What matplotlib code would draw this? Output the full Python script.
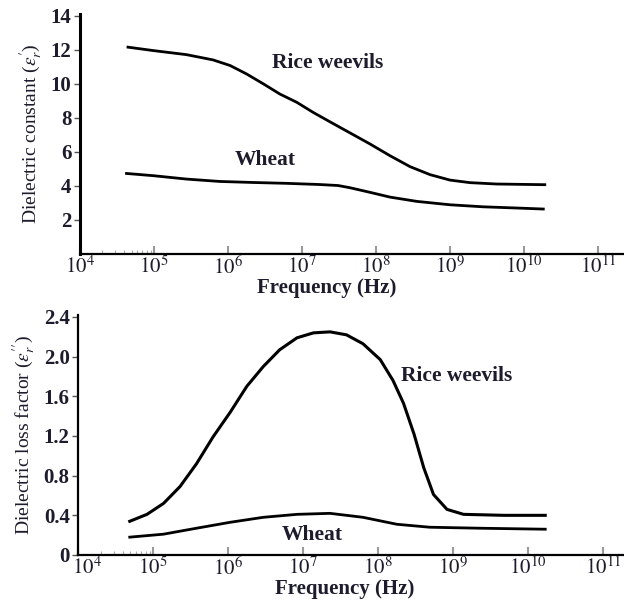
import matplotlib
matplotlib.use('Agg')
import matplotlib.pyplot as plt
import matplotlib.transforms as mtransforms
import numpy as np
from matplotlib.ticker import FixedLocator, NullFormatter

matplotlib.rc('font', family=['Liberation Serif', 'DejaVu Serif'])
matplotlib.rc('mathtext', fontset='stix')

TEXT = '#1c1c2c'

# Dielectric constant (top panel), x as log10(frequency in Hz)
const_rice_logf = [4.65, 4.99, 5.44, 5.80, 6.03, 6.25, 6.48, 6.70, 6.93, 7.15, 7.38,
                   7.65, 7.92, 8.19, 8.46, 8.73, 9.0, 9.27, 9.63, 10.28]
const_rice_val = [12.14, 11.94, 11.7, 11.39, 11.06, 10.57, 9.98, 9.39, 8.9, 8.31, 7.75,
                  7.1, 6.45, 5.76, 5.12, 4.65, 4.33, 4.18, 4.1, 4.06]
const_wheat_logf = [4.63, 4.99, 5.44, 5.89, 6.34, 6.79, 7.24, 7.49, 7.65, 7.92, 8.19,
                    8.55, 9.0, 9.45, 9.9, 10.26]
const_wheat_val = [4.72, 4.59, 4.39, 4.25, 4.19, 4.14, 4.07, 4.01, 3.88, 3.61, 3.33,
                   3.08, 2.88, 2.76, 2.69, 2.63]

# Dielectric loss factor (bottom panel)
loss_rice_logf = [4.69, 4.92, 5.14, 5.36, 5.58, 5.80, 6.03, 6.25, 6.47, 6.69, 6.92,
                  7.14, 7.36, 7.58, 7.80, 8.03, 8.20, 8.34, 8.48, 8.61, 8.74, 8.92,
                  9.14, 9.68, 10.23]
loss_rice_val = [0.34, 0.41, 0.52, 0.69, 0.92, 1.19, 1.44, 1.70, 1.90, 2.07, 2.19,
                 2.24, 2.25, 2.22, 2.13, 1.97, 1.76, 1.53, 1.22, 0.88, 0.61, 0.46,
                 0.41, 0.40, 0.40]
loss_wheat_logf = [4.69, 5.14, 5.58, 6.03, 6.47, 6.92, 7.36, 7.80, 8.25, 8.69, 9.36, 10.23]
loss_wheat_val = [0.18, 0.21, 0.27, 0.33, 0.38, 0.41, 0.42, 0.38, 0.31, 0.28, 0.27, 0.26]

decades = [4, 5, 6, 7, 8, 9, 10, 11]
minor_freqs = [2e4, 3e4, 4e4, 5e4, 6e4, 7e4, 8e4, 9e4]


def style_axes(ax, xmax_log, ylim, yticks, ylabels, ylabel, xlabel_x):
    ax.set_xscale('log')
    ax.set_xlim(1e4, 10**xmax_log)
    ax.set_ylim(*ylim)
    ax.spines['top'].set_visible(False)
    ax.spines['right'].set_visible(False)
    ax.spines['left'].set_linewidth(2.2)
    ax.spines['bottom'].set_linewidth(1.6)
    ax.xaxis.set_major_locator(FixedLocator([10.0**d for d in decades]))
    ax.set_xticklabels([f'$10^{{{d}}}$' for d in decades])
    ax.xaxis.set_minor_locator(FixedLocator(minor_freqs))
    ax.xaxis.set_minor_formatter(NullFormatter())
    ax.tick_params(axis='x', which='major', direction='in', length=6, width=1.5,
                   color='#999999', labelsize=15, labelcolor=TEXT, pad=2)
    ax.tick_params(axis='x', which='minor', direction='in', length=3, width=0.8,
                   color='#aaaaaa')
    ax.set_yticks(yticks)
    ax.set_yticklabels(ylabels)
    ax.tick_params(axis='y', direction='out', length=4, width=1.0, color='#555555',
                   labelsize=15, labelcolor=TEXT, pad=2)
    for lbl in ax.get_xticklabels() + ax.get_yticklabels():
        lbl.set_fontweight('bold')
    ax.set_ylabel(ylabel, fontsize=14, color=TEXT, labelpad=4)
    ax.set_xlabel('Frequency (Hz)', fontsize=15, fontweight='bold', color=TEXT)
    ax.xaxis.label.set_va('bottom')
    ax.xaxis.set_label_coords(xlabel_x, -0.183)


fig = plt.figure(figsize=(6.24, 6.0), dpi=100)

ax1 = fig.add_axes([0.128, 0.577, 0.872, 0.40])
ax1.plot(10.0**np.array(const_rice_logf), const_rice_val, color='black', lw=2.0)
ax1.plot(10.0**np.array(const_wheat_logf), const_wheat_val, color='black', lw=2.0)
style_axes(ax1, 11.35, (0, 14.1), [2, 4, 6, 8, 10, 12, 14],
           ['2', '4', '6', '8', '10', '12', '14'],
           "Dielectric constant ($\\varepsilon_r^{\\prime}$)", 0.454)
ax1.text(10**7.34, 11.2, 'Rice weevils', fontsize=15.5, fontweight='bold', color=TEXT,
         ha='center', va='center')
ax1.text(10**6.5, 5.5, 'Wheat', fontsize=15.5, fontweight='bold', color=TEXT,
         ha='center', va='center')

ax2 = fig.add_axes([0.125, 0.075, 0.875, 0.40])
ax2.plot(10.0**np.array(loss_rice_logf), loss_rice_val, color='black', lw=2.2)
ax2.plot(10.0**np.array(loss_wheat_logf), loss_wheat_val, color='black', lw=2.0)
style_axes(ax2, 11.28, (0, 2.42), [0, 0.4, 0.8, 1.2, 1.6, 2.0, 2.4],
           ['0', '0.4', '0.8', '1.2', '1.6', '2.0', '2.4'],
           "Dielectric loss factor ($\\varepsilon_r^{\\prime\\prime}$)", 0.489)
ax2.spines['left'].set_linewidth(1.6)
ax2.text(10**9.05, 1.8, 'Rice weevils', fontsize=15.5, fontweight='bold', color=TEXT,
         ha='center', va='center')
ax2.text(10**7.12, 0.2, 'Wheat', fontsize=15.5, fontweight='bold', color=TEXT,
         ha='center', va='center')

# the first decade label sits a little right of the axis in the lower panel
first = ax2.get_xticklabels()[0]
first.set_transform(first.get_transform() +
                    mtransforms.ScaledTranslation(9 / 100, 0, fig.dpi_scale_trans))

fig.savefig('out.png', dpi=100)
